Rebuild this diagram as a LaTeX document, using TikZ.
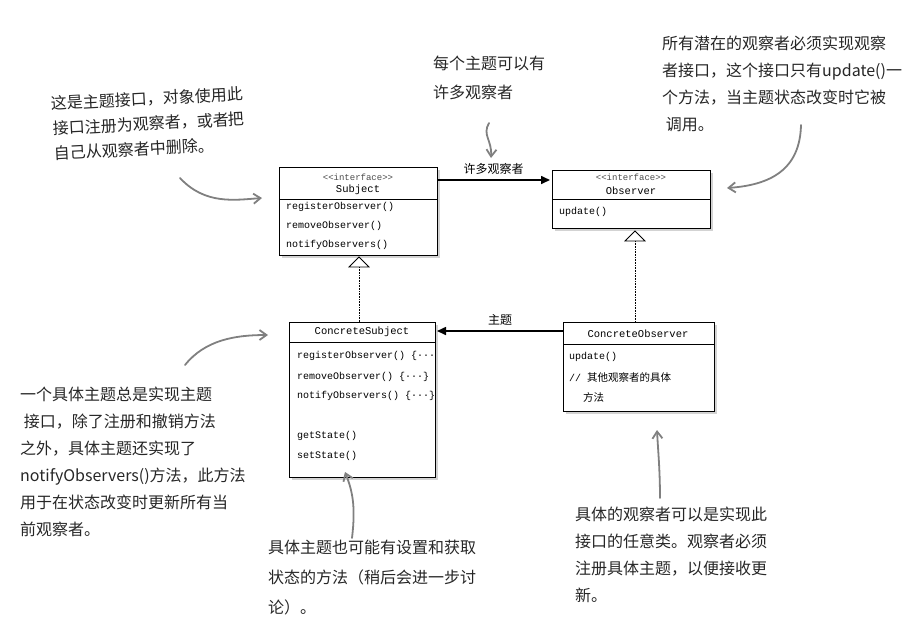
\documentclass[tikz,border=0pt]{standalone}
\usepackage{fontspec}
\setmonofont{Liberation Mono}
\newfontfamily\cjk{Noto Sans CJK SC}
\usetikzlibrary{shadows,arrows.meta}
\begin{document}
\begin{tikzpicture}[x=1pt,y=-1pt,
  box/.style={draw,fill=white,line width=0.8pt,drop shadow={shadow xshift=3pt,shadow yshift=-3pt,opacity=0.35}},
  code/.style={anchor=west,inner sep=0,font=\ttfamily\fontsize{10}{10}\selectfont},
  title/.style={anchor=center,inner sep=0,font=\ttfamily\fontsize{10.5}{11}\selectfont},
  note/.style={anchor=north west,align=left,inner sep=0,font=\cjk\fontsize{16}{27}\selectfont,text=black!85},
  hand/.style={draw=black!50,line width=1.8pt,line cap=round,-{Straight Barb[length=7pt,width=10pt]}},
  inh/.style={densely dotted,line width=0.6pt},
  tri/.style={draw,fill=white,line width=0.8pt},
  elab/.style={above=1pt,font=\cjk\fontsize{12}{14}\selectfont}]
\useasboundingbox (0,0) rectangle (921,630);
% Subject
\node[box,minimum width=158pt,minimum height=88pt,anchor=north west] (S) at (279,167) {};
\draw (279,199) -- (437,199);
\node[title,text=black!70,font=\ttfamily\fontsize{9}{10}\selectfont] (Si) at (358,177) {<<interface>>};
\node[title] (Sn) at (358,190) {Subject};
\node[code] (S1) at (286,207) {registerObserver()};
\node[code] (S2) at (286,226) {removeObserver()};
\node[code] (S3) at (286,245) {notifyObservers()};
% Observer
\node[box,minimum width=158pt,minimum height=58pt,anchor=north west] (O) at (552,170) {};
\draw (552,199) -- (710,199);
\node[title,text=black!70,font=\ttfamily\fontsize{9}{10}\selectfont] (Oi) at (631,177) {<<interface>>};
\node[title] (On) at (631,191) {Observer};
\node[code] (O1) at (559,212) {update()};
% ConcreteSubject
\node[box,minimum width=146pt,minimum height=155pt,anchor=north west] (CS) at (289,322) {};
\draw (289,342) -- (435,342);
\node[title] (CSn) at (362,332) {ConcreteSubject};
\node[code] (C1) at (297,356) {registerObserver() \{\textperiodcentered\textperiodcentered\textperiodcentered};
\node[code] (C2) at (297,377) {removeObserver() \{\textperiodcentered\textperiodcentered\textperiodcentered\}};
\node[code] (C3) at (297,396) {notifyObservers() \{\textperiodcentered\textperiodcentered\textperiodcentered\}};
\node[code] (C4) at (297,436) {getState()};
\node[code] (C5) at (297,456) {setState()};
% ConcreteObserver
\node[box,minimum width=151pt,minimum height=89pt,anchor=north west] (CO) at (563,322) {};
\draw (563,344) -- (714,344);
\node[title] (COn) at (638,334) {ConcreteObserver};
\node[code] (D1) at (569,357) {update()};
\node[code] (D2) at (569,377) {// {\cjk\fontsize{10.5}{11}\selectfont 其他观察者的具体}};
\node[code] (D3) at (583,397) {{\cjk\fontsize{10.5}{11}\selectfont 方法}};
% associations
\coordinate (a1) at (437,180); \coordinate (a2) at (550,180);
\draw[line width=1.6pt,-{Triangle[length=9pt,width=8pt]}] (a1) -- node[elab]{许多观察者} (a2);
\coordinate (b1) at (563,331); \coordinate (b2) at (437,331);
\draw[line width=1.6pt,-{Triangle[length=9pt,width=8pt]}] (b1) -- node[elab]{主题} (b2);
% inheritance
\draw[tri] (359,257) -- (369,267) -- (349,267) -- cycle;
\coordinate (t1) at (359,267);
\draw[inh] (t1) -- (CS.north -| t1);
\draw[tri] (635,231) -- (645,241) -- (625,241) -- cycle;
\coordinate (t2) at (635,241);
\draw[inh] (t2) -- (CO.north -| t2);
% notes
\node[note,rotate=3,font=\cjk\fontsize{16}{25}\selectfont] (N1) at (51,96) {这是主题接口，对象使用此\\接口注册为观察者，或者把\\自己从观察者中删除。};
\node[note,font=\cjk\fontsize{16}{29}\selectfont] (N2) at (433,56) {每个主题可以有\\许多观察者};
\node[note] (N3) at (662,36) {所有潜在的观察者必须实现观察\\者接口，这个接口只有update()一\\个方法，当主题状态改变时它被\\\ 调用。};
\node[note] (N4) at (20,387) {一个具体主题总是实现主题\\\ 接口，除了注册和撤销方法\\之外，具体主题还实现了\\notifyObservers()方法，此方法\\用于在状态改变时更新所有当\\前观察者。};
\node[note,font=\cjk\fontsize{16}{30}\selectfont] (N5) at (268,540) {具体主题也可能有设置和获取\\状态的方法（稍后会进一步讨\\论）。};
\node[note] (N6) at (575,507) {具体的观察者可以是实现此\\接口的任意类。观察者必须\\注册具体主题，以便接收更\\新。};
% hand arrows
\draw[hand] (180,178) .. controls (205,205) and (235,200) .. (262,198);
\draw[hand] (489,123) .. controls (482,135) and (492,140) .. (491,158);
\draw[hand] (801,125) .. controls (800,170) and (770,185) .. (727,188);
\draw[hand] (185,365) .. controls (205,340) and (235,335) .. (268,335);
\draw[hand] (352,538) .. controls (356,505) and (352,490) .. (345,472);
\draw[hand] (660,498) .. controls (660,470) and (658,450) .. (657,430);
\end{tikzpicture}
\end{document}
